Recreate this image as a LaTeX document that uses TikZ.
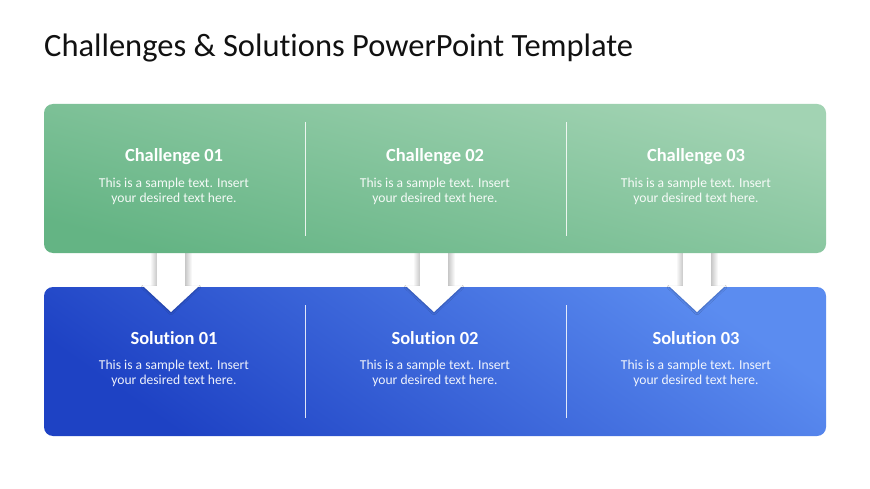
\documentclass[tikz,border=0pt]{standalone}
\usepackage{fontspec}
\setmainfont{Carlito}[Ligatures={NoCommon}]
\usetikzlibrary{shadows.blur}
\definecolor{gtop}{HTML}{A2D3B3}
\definecolor{gbot}{HTML}{64B484}
\definecolor{btop}{HTML}{5B8CF0}
\definecolor{bbot}{HTML}{1E42C4}
\definecolor{titlec}{HTML}{111111}
\tikzset{
  panel/.style={rounded corners=9pt},
  divider/.style={draw=white, line width=0.7pt, opacity=0.85},
  head/.style={text=white, font=\bfseries\fontsize{18.5}{22}\selectfont, anchor=center},
  body/.style={text=white, font=\fontsize{13.6}{15}\selectfont, align=center, anchor=north, opacity=0.92},
  shadeL/.style={left color=white, right color=black!22},
  shadeR/.style={left color=black!22, right color=white},
  arrowhead/.style={fill=white, blur shadow={shadow blur steps=6, shadow xshift=0pt, shadow yshift=-1pt, shadow opacity=25}},
}
\begin{document}
\begin{tikzpicture}[x=1pt,y=-1pt]
\useasboundingbox (0,0) rectangle (870,489);
\fill[white] (0,0) rectangle (870,489);
% title
\node[anchor=west, text=titlec, font=\fontsize{32.5}{36}\selectfont, inner sep=0] (title) at (44,48) {Challenges \& Solutions PowerPoint Template};
% shafts (behind panels)
\foreach \cx in {171,434,697}{
  \shade[shadeL] (\cx-21,250) rectangle (\cx-14,290);
  \shade[shadeR] (\cx+14,250) rectangle (\cx+21,290);
  \fill[white] (\cx-14,250) rectangle (\cx+14,290);
}
% green panel
\shade[panel, top color=gtop, bottom color=gbot, shading angle=-15] (44,104) rectangle (826,253);
% blue panel
\shade[panel, top color=btop, bottom color=bbot, shading angle=-35] (44,287) rectangle (826,436);
% arrow heads
\foreach \cx in {171,434,697}{
  \fill[arrowhead] (\cx-28,286) -- (\cx+28,286) -- (\cx,312) -- cycle;
  \fill[white] (\cx-14,284) rectangle (\cx+14,290);
}
% dividers
\coordinate (d1t) at (305,122); \coordinate (d1b) at (305,236);
\coordinate (d2t) at (566,122); \coordinate (d2b) at (566,236);
\coordinate (d3t) at (305,305); \coordinate (d3b) at (305,418);
\coordinate (d4t) at (566,305); \coordinate (d4b) at (566,418);
\draw[divider] (d1t) -- (d1b);
\draw[divider] (d2t) -- (d2b);
\draw[divider] (d3t) -- (d3b);
\draw[divider] (d4t) -- (d4b);
% texts
\foreach \cx/\i in {174/1,435/2,696/3}{
  \node[head] (ch\i) at (\cx,157) {Challenge 0\i};
  \node[body, inner sep=0] (cb\i) at (\cx,178) {This is a sample text. Insert\\your desired text here.};
  \node[head] (sh\i) at (\cx,338.5) {Solution 0\i};
  \node[body, inner sep=0] (sb\i) at (\cx,360) {This is a sample text. Insert\\your desired text here.};
}
\end{tikzpicture}
\end{document}
